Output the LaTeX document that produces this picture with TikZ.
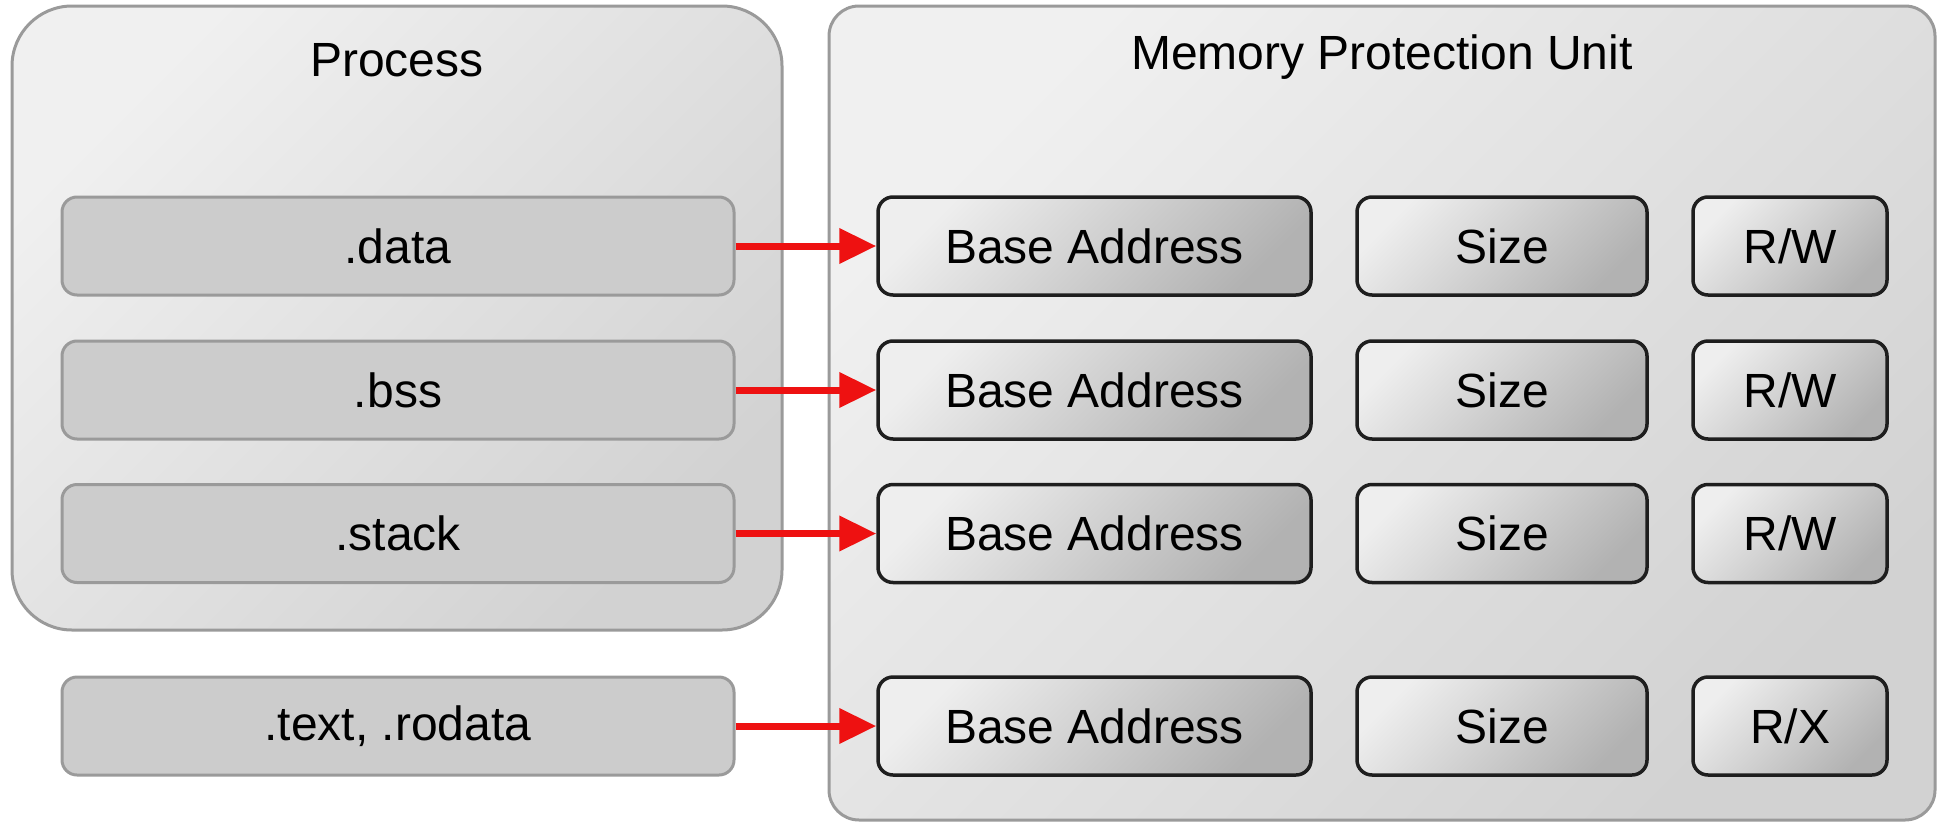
\documentclass[tikz,border=0pt]{standalone}
\usepackage{fontspec}
\setmainfont{Liberation Sans}
\usetikzlibrary{arrows.meta}

\definecolor{panelline}{HTML}{9A9A9A}
\definecolor{panellight}{HTML}{F0F0F0}
\definecolor{paneldark}{HTML}{D2D2D2}
\definecolor{segfill}{HTML}{CCCCCC}
\definecolor{celllight}{HTML}{EEEEEE}
\definecolor{celldark}{HTML}{B2B2B2}
\definecolor{cellline}{HTML}{1E1E1E}
\definecolor{maparrow}{HTML}{EE1111}

\tikzset{
  labelfont/.style={font=\fontsize{48}{57}\selectfont},
  panel/.style={draw=panelline, line width=3pt, top color=panellight,
    bottom color=paneldark, shading angle=45},
  paneltitle/.style={labelfont, text=black},
  segment/.style={draw=panelline, line width=3pt, fill=segfill,
    rounded corners=15pt, minimum height=98pt, minimum width=672pt,
    labelfont},
  cell/.style={draw=cellline, line width=3.5pt, top color=celllight,
    bottom color=celldark, shading angle=45, rounded corners=15pt,
    minimum height=98pt, labelfont},
  base/.style={cell, minimum width=433pt},
  sizecell/.style={cell, minimum width=290pt},
  permcell/.style={cell, minimum width=194pt},
  maps/.style={draw=maparrow, line width=7pt,
    -{Triangle[length=37pt,width=34pt]}},
}

\begin{document}
\begin{tikzpicture}[x=1pt,y=-1pt]
\useasboundingbox (0,0) rectangle (1941,822);

% outer panels
\node[panel, rounded corners=60pt, minimum width=770pt, minimum height=624pt]
  (proc) at (397,318) {};
\node[panel, rounded corners=30pt, minimum width=1106pt, minimum height=814pt]
  (mpu) at (1382,413) {};
\node[paneltitle] (proctitle) at (397,60) {Process};
\node[paneltitle] (mputitle) at (1382,57) {Memory Protection Unit};

% process segments
\node[segment] (data)   at (398,246) {.data};
\node[segment] (bss)    at (398,390) {.bss};
\node[segment] (stack)  at (398,533.5) {.stack};
\node[segment] (text)   at (398,726) {.text, .rodata};

% MPU region entries
\foreach \row/\y/\perm in {1/246/R\slash W, 2/390/R\slash W, 3/533.5/R\slash W, 4/726/R\slash X}{
  \node[base]     (ba\row) at (1094.5,\y) {Base Address};
  \node[sizecell] (sz\row) at (1502,\y) {Size};
  \node[permcell] (pm\row) at (1790,\y) {\perm};
}

% mapping arrows
\draw[maps] (data.east)  -- (ba1.west);
\draw[maps] (bss.east)   -- (ba2.west);
\draw[maps] (stack.east) -- (ba3.west);
\draw[maps] (text.east)  -- (ba4.west);
\end{tikzpicture}
\end{document}
